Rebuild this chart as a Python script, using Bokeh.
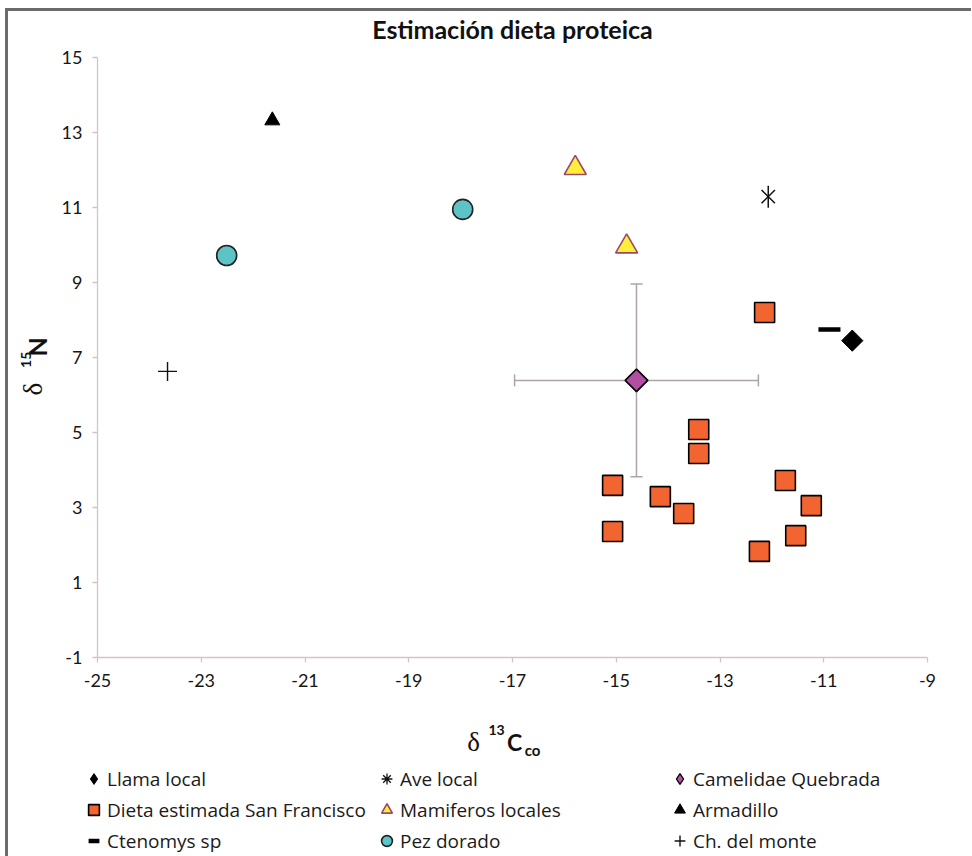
import numpy as np
from bokeh.plotting import figure
from bokeh.layouts import row, column
from bokeh.models import (ColumnDataSource, Range1d, FixedTicker, Legend, LegendItem,
                          Label, Whisker, TeeHead, Div, Spacer)
from bokeh.embed import file_html
from bokeh.resources import INLINE

# ---------------- data ----------------
llama_x = [-10.45]; llama_y = [7.45]
ave_x = [-12.07]; ave_y = [11.29]
cam_x = [-14.61]; cam_y = [6.39]; cam_xerr = [2.35]; cam_yerr = [2.57]
dieta_x = [-12.14, -13.41, -13.41, -15.07, -14.15, -13.70, -15.07, -11.74, -11.24, -11.54, -12.24]
dieta_y = [8.20, 5.08, 4.44, 3.59, 3.29, 2.84, 2.36, 3.72, 3.05, 2.25, 1.83]
mam_x = [-15.79, -14.80]; mam_y = [12.05, 9.96]
arm_x = [-21.63]; arm_y = [13.32]
cten_x = [-10.89]; cten_y = [7.75]
pez_x = [-22.51, -17.96]; pez_y = [9.72, 10.95]
ch_x = [-23.65]; ch_y = [6.63]
x_ticks = [-25, -23, -21, -19, -17, -15, -13, -11, -9]
y_ticks = [-1, 1, 3, 5, 7, 9, 11, 13, 15]
title_text = "Estimación dieta proteica"

TICK_FONT = "Lato"
LEG_FONT = "Open Sans"
YLAB_W = 48
MAIN_W = 910
FULL_W = YLAB_W + MAIN_W
TITLE_H = 34
MAIN_H = 655
BOT_H = 156
TOTAL_H = TITLE_H + MAIN_H + BOT_H
FRAME_GREY = "#6b6b6b"


def strip(w, h, x0=0):
    f = figure(width=w, height=h, x_range=Range1d(x0, x0 + w), y_range=Range1d(0, h),
               output_backend="svg", toolbar_location=None, x_axis_type=None, y_axis_type=None,
               min_border=0)
    f.outline_line_color = None
    f.grid.visible = False
    return f


def piece(fig, x, y, text, font, size, style="normal", angle=0.0):
    fig.add_layout(Label(x=x, y=y, text=text, text_font=font, text_font_size=size,
                         text_font_style=style, angle=angle, text_align="center",
                         text_baseline="middle", text_color="#111111"))


# ---------------- title strip ----------------
tt = strip(FULL_W, TITLE_H)
piece(tt, 504, 17, title_text, "Lato", "25px", "bold")

# ---------------- main plot ----------------
p = figure(width=MAIN_W, height=MAIN_H, x_range=Range1d(-25, -9), y_range=Range1d(-1, 15),
           output_backend="svg", toolbar_location=None,
           min_border_left=41, min_border_right=39, min_border_top=12, min_border_bottom=43)
p.outline_line_color = None
p.grid.visible = False

p.xaxis.ticker = FixedTicker(ticks=x_ticks)
p.yaxis.ticker = FixedTicker(ticks=y_ticks)
p.xaxis.major_label_overrides = {t: str(t) for t in x_ticks}
p.yaxis.major_label_overrides = {t: str(t) for t in y_ticks}
for ax in (p.xaxis[0], p.yaxis[0]):
    ax.axis_line_color = "#D6C4C4"
    ax.axis_line_width = 1.3
    ax.major_tick_line_color = "#D6C4C4"
    ax.major_tick_line_width = 1.3
    ax.major_tick_out = 5
    ax.major_tick_in = 0
    ax.minor_tick_line_color = None
    ax.major_label_text_font = TICK_FONT
    ax.major_label_text_font_size = "18px"
    ax.major_label_text_color = "#161616"
p.xaxis.major_label_standoff = 11
p.yaxis.major_label_standoff = 10

# error bars (Camelidae)
cam_src = ColumnDataSource(dict(
    x=cam_x, y=cam_y,
    xl=[a - e for a, e in zip(cam_x, cam_xerr)], xu=[a + e for a, e in zip(cam_x, cam_xerr)],
    yl=[a - e for a, e in zip(cam_y, cam_yerr)], yu=[a + e for a, e in zip(cam_y, cam_yerr)],
))
EB = "#ADA4A4"
for dim, base, lo, hi in (("width", "y", "xl", "xu"), ("height", "x", "yl", "yu")):
    p.add_layout(Whisker(source=cam_src, base=base, lower=lo, upper=hi, dimension=dim,
                         line_color=EB, line_width=1.5,
                         lower_head=TeeHead(size=12, line_color=EB, line_width=1.5),
                         upper_head=TeeHead(size=12, line_color=EB, line_width=1.5)))

# markers
STY = dict(
    dieta=dict(marker="square", size=20, fill_color="#F26430", line_color="black", line_width=1.6),
    pez=dict(marker="circle", size=20, fill_color="#5CC3C6", line_color="#222222", line_width=1.6),
    mam=dict(marker="triangle", size=22, fill_color="#FFEE3A", line_color="#9C4868", line_width=1.6),
    arm=dict(marker="triangle", size=15, fill_color="black", line_color="black"),
    ch=dict(marker="cross", size=19, line_color="#111111", line_width=1.4),
    cten=dict(marker="dash", size=22, line_color="black", line_width=4.5),
)
p.scatter(dieta_x, dieta_y, **STY["dieta"])
p.scatter(pez_x, pez_y, **STY["pez"])
p.scatter(mam_x, mam_y, **STY["mam"])
p.scatter(arm_x, arm_y, **STY["arm"])
p.scatter(ch_x, ch_y, **STY["ch"])
p.scatter(cten_x, cten_y, **STY["cten"])
p.scatter(ave_x, ave_y, marker="x", size=19, line_color="#111111", line_width=1.5)
p.scatter(ave_x, ave_y, marker="dash", angle=np.pi / 2, size=22, line_color="#111111", line_width=1.5)
p.scatter(cam_x, cam_y, marker="square", angle=np.pi / 4, size=16, fill_color="#B24FA2",
          line_color="black", line_width=1.6)
p.scatter(llama_x, llama_y, marker="square", angle=np.pi / 4, size=15, fill_color="black",
          line_color="black")

# ---------------- left strip: y-axis title ----------------
yl = strip(YLAB_W, MAIN_H)
piece(yl, 24, 293, "δ", "Liberation Serif", "27px", angle=np.pi / 2)
piece(yl, 17, 325, "15", "Lato", "14px", "bold", angle=np.pi / 2)
piece(yl, 28, 339, "N", "Lato", "25px", "bold", angle=np.pi / 2)

# ---------------- bottom strip: x-axis title + legend ----------------
OFF = 100  # strip x coordinate of its left edge (keeps key points outside the strip)
bt = strip(FULL_W, BOT_H, OFF)
piece(bt, OFF + 465, 115, "δ", "Liberation Serif", "27px")
piece(bt, OFF + 488, 127, "13", "Lato", "14px", "bold")
piece(bt, OFF + 506, 115, "C", "Lato", "23px", "bold")
piece(bt, OFF + 524, 107, "co", "Lato", "15px", "bold")

k_llama = bt.scatter(llama_x, llama_y, marker="diamond", size=15, fill_color="black", line_color="black")
k_ave = bt.scatter(ave_x, ave_y, marker="asterisk", size=15, line_color="#111111", line_width=1.3)
k_cam = bt.scatter(cam_x, cam_y, marker="diamond", size=15, fill_color="#B24FA2",
                   line_color="black", line_width=1.3)
k_dieta = bt.scatter(dieta_x, dieta_y, **STY["dieta"])
k_mam = bt.scatter(mam_x, mam_y, **STY["mam"])
k_arm = bt.scatter(arm_x, arm_y, **STY["arm"])
k_cten = bt.scatter(cten_x, cten_y, **STY["cten"])
k_pez = bt.scatter(pez_x, pez_y, **STY["pez"])
k_ch = bt.scatter(ch_x, ch_y, **STY["ch"])

items = [
    LegendItem(label="Llama local", renderers=[k_llama]),
    LegendItem(label="Ave local", renderers=[k_ave]),
    LegendItem(label="Camelidae Quebrada", renderers=[k_cam]),
    LegendItem(label="Dieta estimada San Francisco", renderers=[k_dieta]),
    LegendItem(label="Mamiferos locales", renderers=[k_mam]),
    LegendItem(label="Armadillo", renderers=[k_arm]),
    LegendItem(label="Ctenomys sp", renderers=[k_cten]),
    LegendItem(label="Pez dorado", renderers=[k_pez]),
    LegendItem(label="Ch. del monte", renderers=[k_ch]),
]
legend = Legend(items=items, location=(72, 2), orientation="horizontal", ncols=3,
                glyph_width=27, glyph_height=27, label_standoff=0, label_width=262,
                label_height=27, spacing=4, padding=0, margin=0,
                border_line_color=None, background_fill_alpha=0,
                label_text_font=LEG_FONT, label_text_font_size="19px",
                label_text_color="#1a1a1a")
bt.add_layout(legend)

top_bar = Div(text="", width=966, height=3, margin=0, styles={"background-color": FRAME_GREY})
left_bar = Div(text="", width=3, height=TOTAL_H, margin=0, styles={"background-color": FRAME_GREY})

layout = column(
    Spacer(height=8),
    row(Spacer(width=5), top_bar, spacing=0),
    row(Spacer(width=5), left_bar,
        column(tt, row(yl, p, spacing=0), bt, spacing=0), spacing=0),
    spacing=0,
)

open("out.html", "w").write(file_html(layout, INLINE))
